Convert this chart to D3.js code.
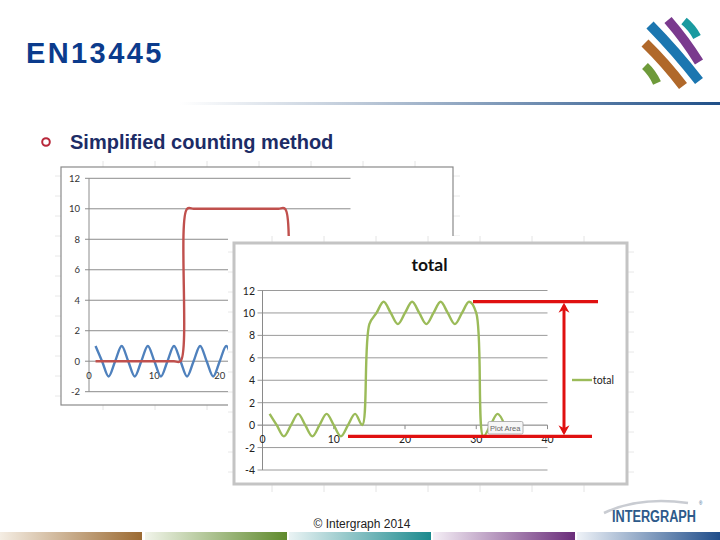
<!DOCTYPE html>
<html><head><meta charset="utf-8">
<script src="https://cdn.jsdelivr.net/npm/d3@7"></script>
<style>html,body{margin:0;padding:0;background:#fff}svg{display:block}</style>
</head><body>
<script>
// ---- data ----
const xs = [1,2,3,4,5,6,7,8,9,10,11,12,13,14,15,16,17,18,19,20,21,22,23,24,25,26,27,28,29,30,31,32,33,34];
const wave = [1,0,-1,0,1,0,-1,0,1,0,-1,0,1,0,-1,0,1,0,-1,0,1,0,-1,0,1,0,-1,0,1,0,-1,0,1,0];
const step = [0,0,0,0,0,0,0,0,0,0,0,0,0,0,10,10,10,10,10,10,10,10,10,10,10,10,10,10,10,10,0,0,0,0];
const total = [1,0,-1,0,1,0,-1,0,1,0,-1,0,1,0,9,10,11,10,9,10,11,10,9,10,11,10,9,10,11,10,-1,0,1,0];
const backYTicks = [-2,0,2,4,6,8,10,12];
const backXTicks = [0,10,20];
const frontYTicks = [-4,-2,0,2,4,6,8,10,12];
const frontXTicks = [0,10,20,30,40];
const seriesName = "total";
const pageTitle = "EN13445";
const bulletText = "Simplified counting method";
const footerText = "© Intergraph 2014";

const W = 720, H = 540;
const svg = d3.select("body").append("svg").attr("width", W).attr("height", H);
const defs = svg.append("defs");

// header gradient line
const hg = defs.append("linearGradient").attr("id","hg");
hg.append("stop").attr("offset","0").attr("stop-color","#ffffff");
hg.append("stop").attr("offset","0.35").attr("stop-color","#b9c6d6");
hg.append("stop").attr("offset","1").attr("stop-color","#1f4f88");
svg.append("rect").attr("x",180).attr("y",102).attr("width",540).attr("height",3).attr("fill","url(#hg)");

svg.append("text").attr("x",26).attr("y",63).text(pageTitle)
  .attr("font-family","Liberation Sans, Arial, sans-serif").attr("font-weight","bold")
  .attr("font-size",29).attr("letter-spacing",2.4).attr("fill","#0b3b8c");

// logo
const logo = svg.append("g");
const bars = [
  {c:"#1a9aa0", x1:684, y1:21, x2:697, y2:37, w:8.5},
  {c:"#7a3a8e", x1:668, y1:20, x2:699, y2:62, w:9.5},
  {c:"#1b76b0", x1:650, y1:25, x2:699, y2:81, w:10},
  {c:"#b0682a", x1:645, y1:43, x2:683, y2:86, w:10},
  {c:"#6e9a3a", x1:645, y1:66, x2:657, y2:83, w:8.5}
];
bars.forEach(b=>{
  logo.append("path").attr("d",`M${b.x1},${b.y1} Q${(b.x1+b.x2)/2+1.5},${(b.y1+b.y2)/2-1.5} ${b.x2},${b.y2}`)
    .attr("stroke",b.c).attr("stroke-width",b.w).attr("fill","none").attr("stroke-linecap","butt");
});

// bullet
svg.append("circle").attr("cx",46).attr("cy",142).attr("r",3.8).attr("fill","none").attr("stroke","#b8283a").attr("stroke-width",2);
svg.append("text").attr("x",70).attr("y",149).text(bulletText)
  .attr("font-family","Liberation Sans, Arial, sans-serif").attr("font-weight","bold")
  .attr("font-size",20).attr("fill","#1c2c66");

// spreadsheet cell grid helper
function cells(x0,y0,x1,y1,xs0,dx,ys0,dy){
  const g = svg.append("g");
  g.append("rect").attr("x",x0).attr("y",y0).attr("width",x1-x0).attr("height",y1-y0).attr("fill","#fff");
  for(let x=xs0;x<x1;x+=dx) g.append("line").attr("x1",x).attr("x2",x).attr("y1",y0).attr("y2",y1).attr("stroke","#e4e4e4");
  for(let y=ys0;y<y1;y+=dy) g.append("line").attr("x1",x0).attr("x2",x1).attr("y1",y).attr("y2",y).attr("stroke","#e8e8e8");
}
const lineFont = "Lato, 'Open Sans', sans-serif";

// ---- back chart ----
cells(55,161,460,410,103,52,176,20);
svg.append("rect").attr("x",61).attr("y",167).attr("width",392).attr("height",238)
  .attr("fill","#fff").attr("stroke","#8a8a8a").attr("stroke-width",1.2);
const xB = d3.scaleLinear().domain([0,40]).range([89,350.5]);
const yB = d3.scaleLinear().domain([-2,12]).range([391.7,178.3]);
const gB = svg.append("g");
backYTicks.forEach(t=>{
  gB.append("line").attr("x1",xB(0)-4).attr("x2",xB(40)).attr("y1",yB(t)).attr("y2",yB(t)).attr("stroke","#8c8c8c").attr("stroke-width",1);
  gB.append("text").attr("x",80).attr("y",yB(t)+3.5).attr("text-anchor","end").text(t)
    .attr("font-family",lineFont).attr("font-size",9.5).attr("fill","#333");
});
gB.append("line").attr("x1",xB(0)).attr("x2",xB(0)).attr("y1",yB(12)).attr("y2",yB(-2)).attr("stroke","#8c8c8c");
backXTicks.forEach(t=>{
  gB.append("text").attr("x",xB(t)).attr("y",yB(0)+18).attr("text-anchor","middle").text(t)
    .attr("font-family",lineFont).attr("font-size",9.5).attr("fill","#333");
});
const lineB = d3.line().x((d,i)=>xB(xs[i])).y(d=>yB(d)).curve(d3.curveCatmullRom.alpha(0.5));
gB.append("path").attr("d",lineB(wave)).attr("fill","none").attr("stroke","#4f81bd").attr("stroke-width",2.4);
gB.append("path").attr("d",lineB(step)).attr("fill","none").attr("stroke","#c0504d").attr("stroke-width",2.4);

// ---- front chart ----
cells(228,236,634,492,272,52,252,20);
svg.append("rect").attr("x",234).attr("y",243).attr("width",393).attr("height",241)
  .attr("fill","#fff").attr("stroke","#c4c4c4").attr("stroke-width",3);
const xF = d3.scaleLinear().domain([0,40]).range([262.5,547.5]);
const yF = d3.scaleLinear().domain([-4,12]).range([470,290.5]);
const gF = svg.append("g");
svg.append("text").attr("x",429.5).attr("y",271).attr("text-anchor","middle").text(seriesName)
  .attr("font-family",lineFont).attr("font-weight","bold").attr("font-size",17.5).attr("fill","#111");
frontYTicks.forEach(t=>{
  gF.append("line").attr("x1",xF(0)-5).attr("x2",xF(40)).attr("y1",yF(t)).attr("y2",yF(t))
    .attr("stroke", t===0 ? "#7a7a7a" : "#9a9a9a").attr("stroke-width",1);
  gF.append("text").attr("x",255).attr("y",yF(t)+4).attr("text-anchor","end").text(t)
    .attr("font-family",lineFont).attr("font-size",10.5).attr("fill","#222");
});
gF.append("line").attr("x1",xF(0)).attr("x2",xF(0)).attr("y1",yF(12)).attr("y2",yF(-4)).attr("stroke","#8a8a8a");
frontXTicks.forEach(t=>{
  gF.append("line").attr("x1",xF(t)).attr("x2",xF(t)).attr("y1",yF(0)).attr("y2",yF(0)+4).attr("stroke","#8a8a8a");
  gF.append("text").attr("x",xF(t)).attr("y",yF(0)+18).attr("text-anchor","middle").text(t)
    .attr("font-family",lineFont).attr("font-size",10.5).attr("fill","#222");
});
const lineF = d3.line().x((d,i)=>xF(xs[i])).y(d=>yF(d)).curve(d3.curveCatmullRom.alpha(0.5));
gF.append("path").attr("d",lineF(total)).attr("fill","none").attr("stroke","#9bbb59").attr("stroke-width",2.4);

// legend
gF.append("line").attr("x1",572).attr("x2",592).attr("y1",380).attr("y2",380).attr("stroke","#9bbb59").attr("stroke-width",2.4);
gF.append("text").attr("x",593).attr("y",384).text(seriesName)
  .attr("font-family",lineFont).attr("font-size",10.5).attr("fill","#222");

// tooltip
gF.append("rect").attr("x",488).attr("y",421.5).attr("width",35).attr("height",12.5).attr("rx",1.5)
  .attr("fill","#f6f6f6").attr("stroke","#a0a0a0").attr("stroke-width",0.8);
gF.append("text").attr("x",490).attr("y",431).text("Plot Area")
  .attr("font-family","Liberation Sans, Arial, sans-serif").attr("font-size",7.5).attr("fill","#666");

// red range annotation
const maxV = d3.max(total), minV = d3.min(total);
const red = "#e01010";
const an = svg.append("g");
an.append("line").attr("x1",473).attr("x2",598).attr("y1",yF(maxV)).attr("y2",yF(maxV)).attr("stroke",red).attr("stroke-width",3.2);
an.append("line").attr("x1",348).attr("x2",592).attr("y1",yF(minV)).attr("y2",yF(minV)).attr("stroke",red).attr("stroke-width",3.2);
const ax = 564;
an.append("line").attr("x1",ax).attr("x2",ax).attr("y1",yF(maxV)+4).attr("y2",yF(minV)-4).attr("stroke",red).attr("stroke-width",3);
an.append("path").attr("d",`M${ax},${yF(maxV)+1} L${ax-5.5},${yF(maxV)+11} L${ax},${yF(maxV)+8} L${ax+5.5},${yF(maxV)+11} Z`).attr("fill",red);
an.append("path").attr("d",`M${ax},${yF(minV)-1} L${ax-5.5},${yF(minV)-11} L${ax},${yF(minV)-8} L${ax+5.5},${yF(minV)-11} Z`).attr("fill",red);

// footer
svg.append("text").attr("x",362).attr("y",528).attr("text-anchor","middle").text(footerText)
  .attr("font-family","'Liberation Sans Narrow', 'Arial Narrow', 'Liberation Sans', sans-serif")
  .attr("font-stretch","condensed").attr("font-size",12).attr("fill","#222");

// intergraph logo
svg.append("path").attr("d","M604,513 Q640,496 688,503").attr("fill","none").attr("stroke","#c9ccd2").attr("stroke-width",2.5);
svg.append("text").attr("x",612).attr("y",522).text("INTERGRAPH")
  .attr("font-family","'Liberation Sans Narrow', 'Liberation Sans', sans-serif").attr("font-weight","bold")
  .attr("font-size",16).attr("textLength",84).attr("lengthAdjust","spacingAndGlyphs").attr("fill","#2d5a8a");
svg.append("text").attr("x",699).attr("y",504.5).text("®").attr("font-size",4.5).attr("fill","#2d5a8a").attr("font-family","Liberation Sans");

// bottom bars
const barCols = [["#f4ede3","#9b6a32"],["#f1f4ea","#5f8a2c"],["#eaf3f4","#1b8a8e"],["#f4eef5","#6a2d7a"],["#eef2f7","#1f4d8a"]];
const barX = [0,145,289,433,577];
barCols.forEach((c,i)=>{
  const g = defs.append("linearGradient").attr("id","bg"+i);
  g.append("stop").attr("offset","0").attr("stop-color",c[0]);
  g.append("stop").attr("offset","1").attr("stop-color",c[1]);
  svg.append("rect").attr("x",barX[i]).attr("y",532).attr("width",i===4?143:142).attr("height",8).attr("fill",`url(#bg${i})`);
});
</script>
</body></html>
